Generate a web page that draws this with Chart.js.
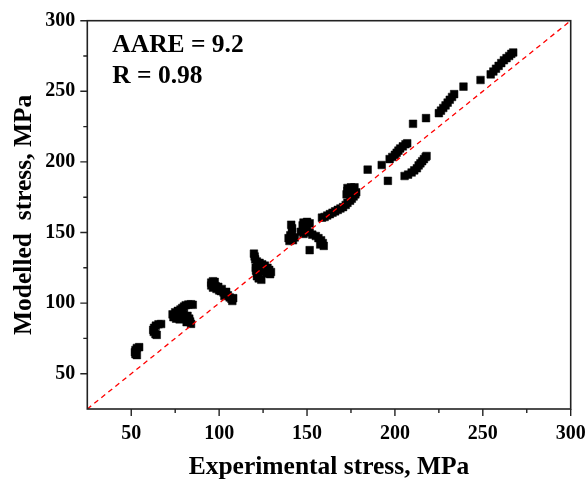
<!DOCTYPE html>
<html>
<head>
<meta charset="utf-8">
<script src="https://cdn.jsdelivr.net/npm/chart.js@4.4.1/dist/chart.umd.min.js"></script>
<style>
  html, body { margin: 0; padding: 0; background: #ffffff; }
  #wrap { width: 585px; height: 483px; }
</style>
</head>
<body>
<div id="wrap"><canvas id="c" width="585" height="483"></canvas></div>
<script>
// ---- data ----
const experimental = [
  54.5, 53.2, 52.4, 52.1, 52.4, 53.2,
  67.0, 65.5, 64.0, 63.0, 62.5, 62.8, 63.8, 64.5,
  73.5, 74.0, 75.0, 75.5, 76.5, 77.5, 78.0, 79.0, 80.0, 81.0, 82.5, 84.0, 85.0, 80.0, 82.0, 83.0, 83.5, 84.0, 81.5, 78.0, 76.0,
  95.5, 96.5, 97.5, 95.5, 96.5, 98.0, 98.5, 99.5, 100.0, 101.0, 101.5, 102.5, 103.5, 104.0, 105.0, 106.0, 107.0, 107.5, 108.0, 103.0,
  119.8, 120.2, 120.5, 121.5, 123.0, 124.5, 126.0, 127.5, 128.5, 129.5, 129.0, 127.0, 125.0, 121.0, 121.5, 121.5, 122.5, 124.0, 120.8, 122.5,
  141.0, 141.5, 141.5, 140.5, 139.5, 140.0, 142.0, 143.0,
  148.0, 150.0, 151.5, 147.5, 148.5, 146.5, 148.0, 150.0, 151.5,
  153.0, 155.0, 156.5, 158.0, 159.0, 159.5, 157.5, 151.5,
  158.5, 160.0, 161.5, 163.0, 164.5, 166.0, 167.5, 169.0, 170.5, 172.0, 173.0, 174.5, 175.5, 176.5, 177.5, 178.0,
  172.5, 173.0, 173.0, 175.0, 177.0, 176.5, 175.0,
  184.5, 192.5, 196.0,
  197.0, 198.5, 200.0, 201.0, 202.0, 203.0, 204.5, 206.0, 207.0,
  205.5, 207.5, 209.5, 211.0, 212.5, 213.5, 214.5, 215.5, 216.5, 217.5, 218.0,
  210.3, 217.7,
  225.0, 226.2, 227.5, 228.8, 230.0, 231.2, 232.5, 233.7, 239.0,
  248.7,
  254.5, 256.0, 257.5, 259.0, 260.5, 262.0, 263.5, 265.0, 266.2, 267.3
];
const modelled = [
  68.8, 68.2, 66.8, 65.2, 63.8, 63.2,
  85.2, 85.0, 84.0, 82.5, 81.0, 79.5, 78.0, 77.5,
  92.0, 90.0, 93.5, 89.0, 94.5, 88.5, 95.5, 96.5, 97.5, 98.5, 99.0, 99.2, 98.8, 92.0, 91.0, 89.0, 87.0, 85.3, 86.5, 91.0, 91.5,
  114.5, 115.5, 115.0, 112.5, 111.0, 112.0, 110.0, 111.5, 109.0, 108.5, 110.0, 107.5, 106.5, 108.0, 105.5, 104.0, 103.0, 101.5, 103.5, 105.0,
  135.0, 133.0, 131.0, 129.5, 128.5, 127.5, 126.5, 125.0, 123.5, 122.0, 120.5, 121.0, 122.5, 123.0, 121.0, 119.0, 117.5, 116.5, 125.0, 124.0,
  155.5, 153.0, 150.5, 148.0, 146.0, 144.0, 144.5, 146.5,
  157.0, 157.5, 156.5, 155.0, 152.5, 150.5, 149.0, 152.0, 150.0,
  148.5, 147.5, 146.0, 144.5, 142.5, 140.5, 141.5, 137.5,
  160.5, 161.0, 162.0, 163.0, 164.0, 165.0, 166.0, 167.0, 168.0, 169.5, 171.0, 172.5, 174.0, 175.5, 177.0, 178.5,
  177.0, 179.5, 181.5, 182.0, 182.0, 180.0, 177.5,
  194.5, 197.8, 186.6,
  202.0, 203.5, 205.0, 206.5, 208.0, 209.5, 211.0, 212.5, 213.2,
  190.0, 191.0, 192.5, 194.0, 195.5, 197.5, 199.0, 200.5, 202.0, 203.5, 204.2,
  227.0, 231.0,
  234.5, 236.3, 238.2, 240.0, 242.0, 244.0, 246.0, 248.0, 253.3,
  258.0,
  262.0, 264.0, 266.0, 268.0, 270.0, 272.0, 273.5, 275.0, 276.5, 277.5
];
const axisMin = 25;
const axisMax = 300;
const labelTicks = [50, 100, 150, 200, 250, 300];
const minorTicks = [75, 125, 175, 225, 275];
const xTitle = 'Experimental stress, MPa';
const yTitle = 'Modelled  stress, MPa';
const noteLines = ['AARE = 9.2', 'R = 0.98'];

// ---- chart ----
const points = experimental.map((x, i) => ({ x: x, y: modelled[i] }));
const diagonal = [{ x: axisMin, y: axisMin }, { x: axisMax, y: axisMax }];

const FONT = '"Liberation Serif", "Times New Roman", serif';

const framePlugin = {
  id: 'frame',
  afterDraw(chart) {
    const ctx = chart.ctx;
    const a = chart.chartArea;
    const xs = chart.scales.x, ys = chart.scales.y;
    ctx.save();
    ctx.strokeStyle = '#222';
    ctx.lineWidth = 1.6;
    ctx.strokeRect(a.left, a.top, a.right - a.left, a.bottom - a.top);
    ctx.lineWidth = 1.4;
    ctx.beginPath();
    labelTicks.forEach(v => {
      const px = xs.getPixelForValue(v);
      ctx.moveTo(px, a.bottom); ctx.lineTo(px, a.bottom + 7);
      const py = ys.getPixelForValue(v);
      ctx.moveTo(a.left, py); ctx.lineTo(a.left - 7, py);
    });
    minorTicks.forEach(v => {
      const px = xs.getPixelForValue(v);
      ctx.moveTo(px, a.bottom); ctx.lineTo(px, a.bottom + 4);
      const py = ys.getPixelForValue(v);
      ctx.moveTo(a.left, py); ctx.lineTo(a.left - 4, py);
    });
    ctx.stroke();
    ctx.fillStyle = '#000';
    ctx.font = 'bold 25.5px ' + FONT;
    ctx.textAlign = 'left';
    ctx.textBaseline = 'alphabetic';
    ctx.fillText(noteLines[0], a.left + 25, a.top + 31.6);
    ctx.fillText(noteLines[1], a.left + 25, a.top + 62.6);
    ctx.restore();
  }
};

const tickFont = { family: FONT, weight: 'bold', size: 20 };
const titleFont = { family: FONT, weight: 'bold', size: 25.5 };

new Chart(document.getElementById('c'), {
  type: 'scatter',
  data: {
    datasets: [
      {
        type: 'line',
        data: diagonal,
        borderColor: '#ff0000',
        borderWidth: 1.3,
        borderDash: [5, 4],
        pointRadius: 0,
        fill: false,
        order: 0
      },
      {
        data: points,
        pointStyle: 'rect',
        pointRadius: 5.4,
        backgroundColor: '#000',
        borderColor: '#000',
        borderWidth: 0.5,
        order: 1
      }
    ]
  },
  options: {
    responsive: false,
    animation: false,
    layout: { padding: { left: 0, top: 20.7, right: 14.3, bottom: 0 } },
    plugins: { legend: { display: false }, tooltip: { enabled: false } },
    scales: {
      x: {
        type: 'linear',
        min: axisMin,
        max: axisMax,
        afterBuildTicks: s => { s.ticks = labelTicks.map(v => ({ value: v })); },
        afterFit: s => { s.height = 74; s.paddingLeft = 0; s.paddingRight = 0; },
        grid: { display: false, drawTicks: false },
        border: { display: false },
        ticks: { font: tickFont, color: '#000', padding: 13, maxRotation: 0 },
        title: { display: true, text: xTitle, font: titleFont, color: '#000', padding: { top: 0, bottom: 0 } }
      },
      y: {
        type: 'linear',
        min: axisMin,
        max: axisMax,
        afterBuildTicks: s => { s.ticks = labelTicks.map(v => ({ value: v })); },
        afterFit: s => { s.width = 87.3; s.paddingTop = 0; s.paddingBottom = 0; },
        grid: { display: false, drawTicks: false },
        border: { display: false },
        ticks: { font: tickFont, color: '#000', padding: 12 },
        title: { display: true, text: yTitle, font: titleFont, color: '#000', padding: { top: 9, bottom: 0 } }
      }
    }
  },
  plugins: [framePlugin]
});
</script>
</body>
</html>
